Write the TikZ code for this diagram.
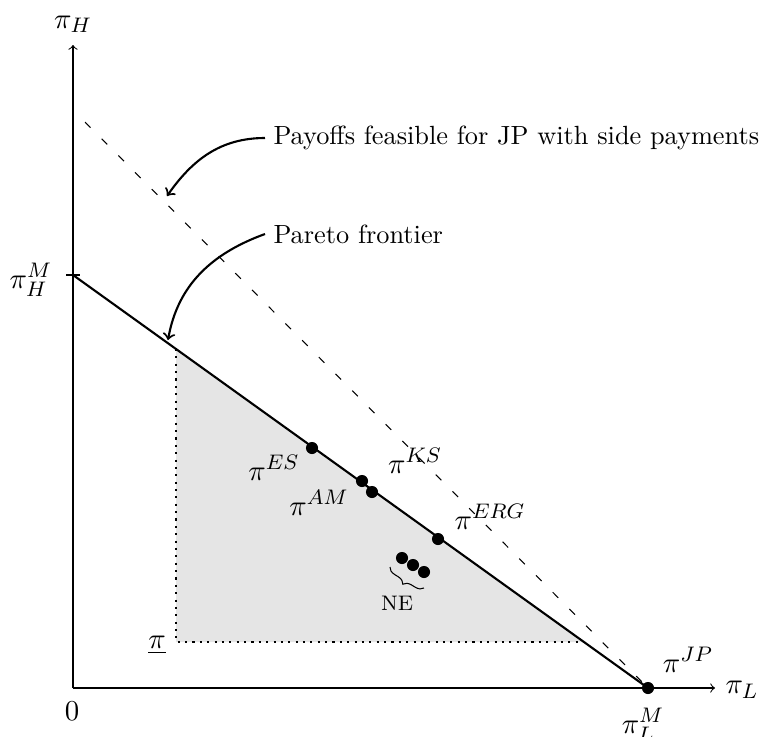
\documentclass[tikz,border=0pt]{standalone}
\usetikzlibrary{decorations.pathreplacing}
\begin{document}
\begin{tikzpicture}[x=0.38pt,y=-0.38pt,
  pt/.style={circle,fill=black,inner sep=0pt,minimum size=4.6pt},
  lbl/.style={inner sep=0pt},
  mlbl/.style={inner sep=0pt,font=\fontsize{11}{13}\selectfont},
  callout/.style={->,thick},
  frontier/.style={thick},
  guide/.style={dotted,thick}]
\useasboundingbox (0,0) rectangle (764,736);
% coordinates
\coordinate (O) at (73,688);
\coordinate (Yend) at (73,45);
\coordinate (Xend) at (715,688);
\coordinate (HM) at (73,275);
\coordinate (LM) at (648,688);
\coordinate (D0) at (85,122);
\coordinate (A) at (176,349);
\coordinate (B) at (176,642);
\coordinate (C) at (584,642);
% shaded region
\fill[gray!20] (A) -- (B) -- (C) -- cycle;
\draw[guide] (A) -- (B) -- (C);
% axes
\draw[->] (O) -- (Yend);
\draw[->] (O) -- (Xend);
\node[mlbl,anchor=south] (piH) at (73,33) {$\pi_H$};
\node[mlbl] (piL) at (742,690) {$\pi_L$};
\node[mlbl] (zero) at (72,711) {$0$};
\draw (66,275) -- (80,275);
\node[mlbl] (piHM) at (31,280) {$\pi_H^M$};
\node[mlbl] (piLM) at (643,725) {$\pi_L^M$};
\node[mlbl] (pilow) at (157,645) {$\underline{\pi}$};
% lines
\draw[loosely dashed] (D0) -- (LM);
\draw[frontier] (HM) -- (LM);
% points
\node[pt] (ES) at (312,448) {};
\node[pt] (AM) at (362,481) {};
\node[pt] (KS) at (372,492) {};
\node[pt] (ERG) at (438,539) {};
\node[pt] (JP) at (648,688) {};
\node[pt] (NE1) at (402,558) {};
\node[pt] (NE2) at (413,565) {};
\node[pt] (NE3) at (424,572) {};
\node[mlbl] (lES) at (274,468) {$\pi^{ES}$};
\node[mlbl] (lAM) at (319,503) {$\pi^{AM}$};
\node[mlbl] (lKS) at (415,461) {$\pi^{KS}$};
\node[mlbl] (lERG) at (490,517) {$\pi^{ERG}$};
\node[mlbl] (lJP) at (688,660) {$\pi^{JP}$};
\draw[decorate,decoration={brace,mirror,amplitude=3pt}] (390,567) -- (424,588);
\node[lbl] (lNE) at (397,603) {\footnotesize NE};
% callouts
\node[lbl,anchor=west] (tPay) at (273,138) {Payoffs feasible for JP with side payments};
\node[lbl,anchor=west] (tPar) at (273,234) {Pareto frontier};
\coordinate (e1) at (167,196);
\coordinate (e2) at (168,340);
\draw[callout] (tPay.west) ++(-8,0) to[out=180,in=55] (e1);
\draw[callout] (tPar.west) ++(-8,0) to[out=200,in=80] (e2);
\end{tikzpicture}
\end{document}
